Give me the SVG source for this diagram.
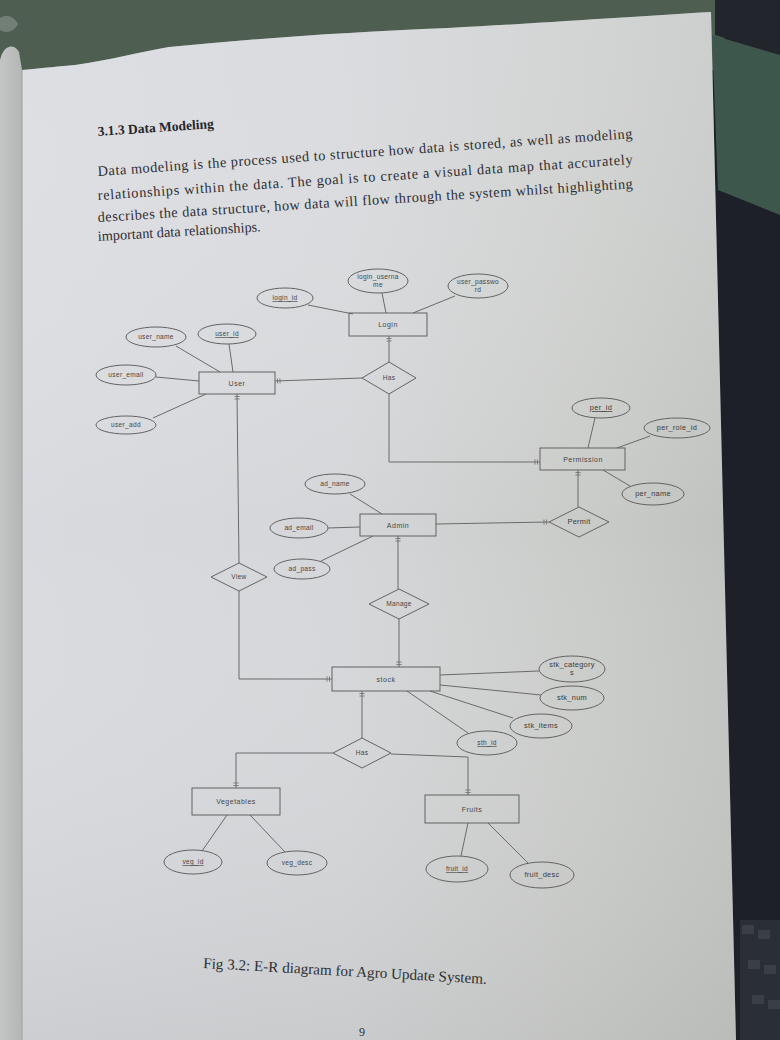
<svg xmlns="http://www.w3.org/2000/svg" width="780" height="1040" viewBox="0 0 780 1040">
  <defs>
    <linearGradient id="paper" x1="0" y1="0" x2="1" y2="0">
      <stop offset="0" stop-color="#d9dadf"/>
      <stop offset="0.45" stop-color="#d5d6d9"/>
      <stop offset="0.8" stop-color="#c9cbc8"/>
      <stop offset="1" stop-color="#bfc2bf"/>
    </linearGradient>
    <linearGradient id="paperShade" x1="0" y1="0" x2="0" y2="1">
      <stop offset="0" stop-color="#e4e5ea" stop-opacity="0.35"/>
      <stop offset="0.5" stop-color="#ffffff" stop-opacity="0"/>
      <stop offset="1" stop-color="#a9aaa9" stop-opacity="0.25"/>
    </linearGradient>
    <linearGradient id="leftPage" x1="0" y1="0" x2="1" y2="0">
      <stop offset="0" stop-color="#c3c6c5"/>
      <stop offset="1" stop-color="#b3b6b5"/>
    </linearGradient>
    <marker id="one" viewBox="-8 -4 8 8" refX="0" refY="0" markerWidth="8" markerHeight="8" markerUnits="userSpaceOnUse" orient="auto">
      <path d="M-2.5 -2.6 V2.6 M-5 -2.6 V2.6" stroke="#6c6c6c" stroke-width="0.8" fill="none"/>
    </marker>
    <style>
      .ent { fill: none; stroke: #636363; stroke-width: 1; }
      .rel { fill: none; stroke: #636363; stroke-width: 1; }
      .att { fill: none; stroke: #636363; stroke-width: 1; }
      .lbl { font-family: "Liberation Sans", Arial, sans-serif; font-size: 6.6px; letter-spacing: 0.3px; fill: #474747; text-anchor: middle; }
      .big { font-size: 7.4px; fill: #3a3a3a; }
      .elbl { font-family: "Liberation Sans", Arial, sans-serif; font-size: 7px; letter-spacing: 0.5px; fill: #474747; text-anchor: middle; }
      .key { text-decoration: underline; }
      .link { fill: none; stroke: #6a6a6a; stroke-width: 1; }
      .body { font-family: "Liberation Serif", "Times New Roman", serif; font-size: 14.3px; fill: #2e2f33; }
      .head { font-family: "Liberation Serif", "Times New Roman", serif; font-size: 13.5px; font-weight: bold; fill: #26272b; }
    </style>
  </defs>

  <!-- backdrop behind the sheet -->
  <rect x="0" y="0" width="780" height="1040" fill="#1d2029"/>
  <path d="M0 0 H730 L720 70 H0 Z" fill="#4e5f51"/>
  <path d="M715 0 H780 V55 L715 35 Z" fill="#22252c"/>
  <path d="M712 35 L780 55 V215 L718 190 Z" fill="#3e574d"/>
  <path d="M0 18 C6 14 14 16 18 24 C14 32 6 34 0 30 Z" fill="#8c9390" opacity="0.6"/>
  <rect x="740" y="920" width="40" height="120" fill="#2a2e36"/>
  <g fill="#3a3e47">
    <rect x="742" y="925" width="12" height="9"/>
    <rect x="758" y="930" width="12" height="9"/>
    <rect x="748" y="960" width="12" height="9"/>
    <rect x="764" y="965" width="12" height="9"/>
    <rect x="752" y="995" width="12" height="9"/>
    <rect x="768" y="1000" width="12" height="9"/>
  </g>

  <!-- neighbouring page edge -->
  <path d="M0 60 C3 46 13 42 19 52 L22 70 V1040 H0 Z" fill="url(#leftPage)"/>

  <!-- the sheet -->
  <path d="M22 70 C45 68 60 66 75 65 C110 60 140 52 169 47 C260 38 350 32 448 28 C560 22 640 16 711 12 L736 1040 H22 Z" fill="url(#paper)"/>
  <path d="M22 70 C45 68 60 66 75 65 C110 60 140 52 169 47 C260 38 350 32 448 28 C560 22 640 16 711 12 L736 1040 H22 Z" fill="url(#paperShade)"/>
  <path d="M22 70 V1040" stroke="#a4a7a8" stroke-width="2" opacity="0.6"/>

  <!-- section heading and paragraph -->
  <text class="head" x="98" y="136" transform="rotate(-3.9 98 136)">3.1.3 Data Modeling</text>
  <text class="body" x="98" y="176" transform="rotate(-4.05 98 176)" textLength="536" lengthAdjust="spacing">Data modeling is the process used to structure how data is stored, as well as modeling</text>
  <text class="body" x="98" y="200" transform="rotate(-3.85 98 200)" textLength="536" lengthAdjust="spacing">relationships within the data. The goal is to create a visual data map that accurately</text>
  <text class="body" x="98" y="222" transform="rotate(-3.6 98 222)" textLength="536" lengthAdjust="spacing">describes the data structure, how data will flow through the system whilst highlighting</text>
  <text class="body" x="98" y="241" transform="rotate(-3.4 98 241)">important data relationships.</text>

  <!-- connectors -->
  <g id="connectors">
    <!-- attribute links -->
    <path class="link" d="M308 305 L353 314"/>
    <path class="link" d="M382 293 L386 313"/>
    <path class="link" d="M455 296 L413 313"/>
    <path class="link" d="M176 346 L220 372"/>
    <path class="link" d="M229 344 L233 372"/>
    <path class="link" d="M156 377 L199 381"/>
    <path class="link" d="M153 418 L206 394"/>
    <path class="link" d="M595 418 L588 448"/>
    <path class="link" d="M650 436 L617 448"/>
    <path class="link" d="M630 486 L603 470"/>
    <path class="link" d="M350 494 L382 514"/>
    <path class="link" d="M328 528 L360 527"/>
    <path class="link" d="M321 561 L373 536"/>
    <path class="link" d="M440 675 L539 671"/>
    <path class="link" d="M440 685 L541 695"/>
    <path class="link" d="M430 691 L513 718"/>
    <path class="link" d="M407 691 L468 733"/>
    <path class="link" d="M227 815 L202 851"/>
    <path class="link" d="M250 815 L285 852"/>
    <path class="link" d="M468 823 L461 856"/>
    <path class="link" d="M488 823 L528 863"/>
    <!-- relationship links -->
    <path class="link" d="M389 362 V336" marker-end="url(#one)"/>
    <path class="link" d="M362 378 L275 381" marker-end="url(#one)"/>
    <path class="link" d="M389 394 V462 H540" marker-end="url(#one)"/>
    <path class="link" d="M578 507 V470" marker-end="url(#one)"/>
    <path class="link" d="M436 524 L549 522" marker-end="url(#one)"/>
    <path class="link" d="M239 563 L237 394" marker-end="url(#one)"/>
    <path class="link" d="M239 591 V679 H332" marker-end="url(#one)"/>
    <path class="link" d="M398 589 V536" marker-end="url(#one)"/>
    <path class="link" d="M399 619 V667" marker-end="url(#one)"/>
    <path class="link" d="M362 738 V691" marker-end="url(#one)"/>
    <path class="link" d="M333 753 H236 V788" marker-end="url(#one)"/>
    <path class="link" d="M391 754 L468 757 V795" marker-end="url(#one)"/>
  </g>

  <!-- entities -->
  <g id="login"><rect class="ent" x="349" y="313" width="78" height="23"/><text class="elbl" x="388" y="327">Login</text></g>
  <g id="user"><rect class="ent" x="199" y="372" width="76" height="22"/><text class="elbl" x="237" y="386">User</text></g>
  <g id="permission"><rect class="ent" x="540" y="448" width="85" height="22"/><text class="elbl" x="583" y="462">Permission</text></g>
  <g id="admin"><rect class="ent" x="360" y="514" width="76" height="22"/><text class="elbl" x="398" y="528">Admin</text></g>
  <g id="stock"><rect class="ent" x="332" y="667" width="108" height="24"/><text class="elbl" x="386" y="682">stock</text></g>
  <g id="vegetables"><rect class="ent" x="192" y="788" width="88" height="27"/><text class="elbl" x="236" y="804">Vegetables</text></g>
  <g id="fruits"><rect class="ent" x="425" y="795" width="94" height="28"/><text class="elbl" x="472" y="812">Fruits</text></g>

  <!-- relationships -->
  <g id="has-login"><polygon class="rel" points="362,378 389,362 416,378 389,394"/><text class="lbl" x="389" y="380">Has</text></g>
  <g id="permit"><polygon class="rel" points="549,522 579,507 609,522 579,537"/><text class="lbl big" x="579" y="524">Permit</text></g>
  <g id="view"><polygon class="rel" points="211,577 239,563 267,577 239,591"/><text class="lbl" x="239" y="579">View</text></g>
  <g id="manage"><polygon class="rel" points="369,604 399,589 429,604 399,619"/><text class="lbl" x="399" y="606">Manage</text></g>
  <g id="has-stock"><polygon class="rel" points="333,753 362,738 391,753 362,768"/><text class="lbl" x="362" y="755">Has</text></g>

  <!-- attributes -->
  <g id="login_id"><ellipse class="att" cx="285" cy="298" rx="28" ry="10"/><text class="lbl key" x="285" y="300">login_id</text></g>
  <g id="login_username"><ellipse class="att" cx="378" cy="281" rx="30" ry="12"/><text class="lbl" x="378" y="279">login_userna</text><text class="lbl" x="378" y="287">me</text></g>
  <g id="user_password"><ellipse class="att" cx="478" cy="286" rx="30" ry="12"/><text class="lbl" x="478" y="284">user_passwo</text><text class="lbl" x="478" y="292">rd</text></g>
  <g id="user_name"><ellipse class="att" cx="156" cy="337" rx="30" ry="10"/><text class="lbl" x="156" y="339">user_name</text></g>
  <g id="user_id"><ellipse class="att" cx="227" cy="334" rx="29" ry="10"/><text class="lbl key" x="227" y="336">user_id</text></g>
  <g id="user_email"><ellipse class="att" cx="126" cy="375" rx="30" ry="10"/><text class="lbl" x="126" y="377">user_email</text></g>
  <g id="user_add"><ellipse class="att" cx="126" cy="425" rx="30" ry="9"/><text class="lbl" x="126" y="427">user_add</text></g>
  <g id="per_id"><ellipse class="att" cx="601" cy="408" rx="29" ry="10"/><text class="lbl big key" x="601" y="410">per_id</text></g>
  <g id="per_role_id"><ellipse class="att" cx="677" cy="428" rx="33" ry="10"/><text class="lbl big" x="677" y="430">per_role_id</text></g>
  <g id="per_name"><ellipse class="att" cx="653" cy="494" rx="31" ry="11"/><text class="lbl big" x="653" y="496">per_name</text></g>
  <g id="ad_name"><ellipse class="att" cx="335" cy="484" rx="30" ry="10"/><text class="lbl" x="335" y="486">ad_name</text></g>
  <g id="ad_email"><ellipse class="att" cx="299" cy="528" rx="29" ry="10"/><text class="lbl" x="299" y="530">ad_email</text></g>
  <g id="ad_pass"><ellipse class="att" cx="302" cy="569" rx="28" ry="10"/><text class="lbl" x="302" y="571">ad_pass</text></g>
  <g id="stk_categorys"><ellipse class="att" cx="572" cy="669" rx="33" ry="13"/><text class="lbl big" x="572" y="667">stk_category</text><text class="lbl big" x="572" y="675">s</text></g>
  <g id="stk_num"><ellipse class="att" cx="572" cy="698" rx="32" ry="12"/><text class="lbl big" x="572" y="700">stk_num</text></g>
  <g id="stk_items"><ellipse class="att" cx="541" cy="726" rx="31" ry="12"/><text class="lbl big" x="541" y="728">stk_items</text></g>
  <g id="sth_id"><ellipse class="att" cx="487" cy="743" rx="30" ry="12"/><text class="lbl key" x="487" y="745">sth_id</text></g>
  <g id="veg_id"><ellipse class="att" cx="193" cy="862" rx="29" ry="12"/><text class="lbl key" x="193" y="864">veg_id</text></g>
  <g id="veg_desc"><ellipse class="att" cx="297" cy="863" rx="30" ry="12"/><text class="lbl" x="297" y="865">veg_desc</text></g>
  <g id="fruit_id"><ellipse class="att" cx="457" cy="869" rx="31" ry="13"/><text class="lbl key" x="457" y="871">fruit_id</text></g>
  <g id="fruit_desc"><ellipse class="att" cx="542" cy="875" rx="32" ry="13"/><text class="lbl big" x="542" y="877">fruit_desc</text></g>

  <!-- caption and page number -->
  <text class="body" x="203" y="968" transform="rotate(3.2 203 968)" style="font-size:15px" textLength="284" lengthAdjust="spacingAndGlyphs">Fig 3.2: E-R diagram for Agro Update System.</text>
  <text class="body" x="362" y="1036" style="font-size:12px" text-anchor="middle">9</text>
</svg>
